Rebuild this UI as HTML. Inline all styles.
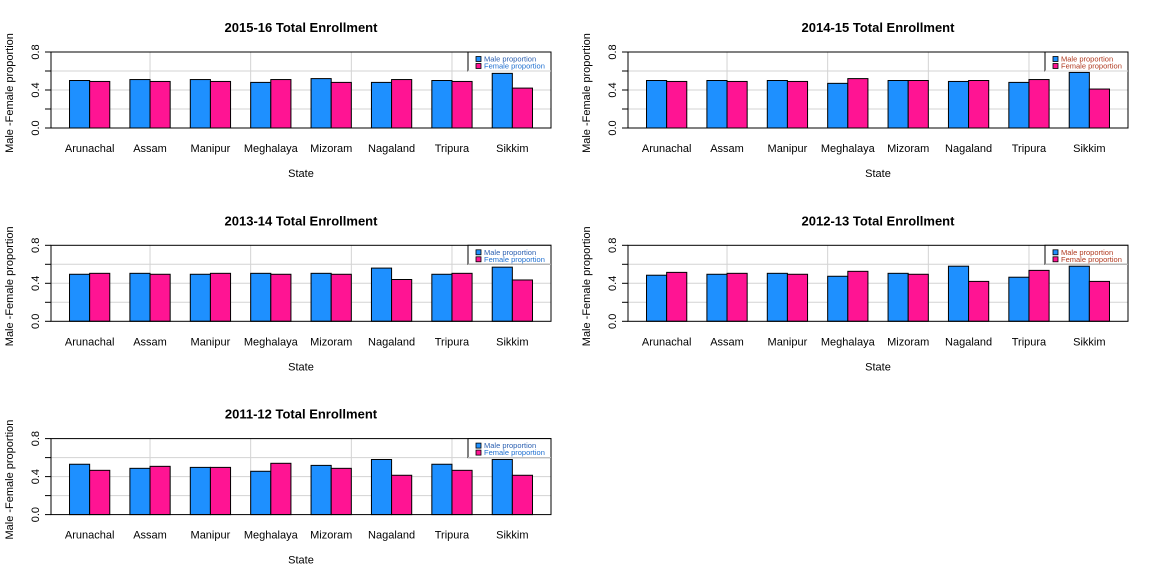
<!DOCTYPE html>
<html><head><meta charset="utf-8"><style>
body{margin:0;background:#fff;}
svg{display:block;font-family:"Liberation Sans",Arial,sans-serif;}
</style></head><body>
<svg id="chart" width="1154" height="580" viewBox="0 0 1154 580" xmlns="http://www.w3.org/2000/svg"></svg>
<script>
const states = ["Arunachal","Assam","Manipur","Meghalaya","Mizoram","Nagaland","Tripura","Sikkim"];
const years = ["2015-16","2014-15","2013-14","2012-13","2011-12"];
const male1516 = [0.50,0.51,0.51,0.48,0.52,0.48,0.50,0.575];
const female1516 = [0.49,0.49,0.49,0.51,0.48,0.51,0.49,0.42];
const male1415 = [0.50,0.50,0.50,0.47,0.50,0.49,0.48,0.585];
const female1415 = [0.49,0.49,0.49,0.52,0.50,0.50,0.51,0.41];
const male1314 = [0.495,0.505,0.495,0.505,0.505,0.56,0.495,0.57];
const female1314 = [0.505,0.495,0.505,0.495,0.495,0.44,0.505,0.435];
const male1213 = [0.485,0.495,0.505,0.474,0.505,0.58,0.464,0.58];
const female1213 = [0.515,0.505,0.495,0.526,0.495,0.42,0.536,0.42];
const male1112 = [0.53,0.487,0.497,0.456,0.518,0.58,0.53,0.58];
const female1112 = [0.466,0.508,0.497,0.54,0.487,0.414,0.466,0.414];
const yTicks = [0,0.2,0.4,0.6,0.8];
const yTickLabels = ["0.0","","0.4","","0.8"];
const legendLabels = ["Male proportion","Female proportion"];
const maleSeries=[male1516,male1415,male1314,male1213,male1112];
const femaleSeries=[female1516,female1415,female1314,female1213,female1112];
const legendColors=[["#2a5fb0","#1e6fd0"],["#b03a20","#b03a20"]];

const NS="http://www.w3.org/2000/svg";
const svg=document.getElementById('chart');
function mk(tag,attrs,parent,text){const e=document.createElementNS(NS,tag);for(const k in attrs)e.setAttribute(k,attrs[k]);if(text!==undefined)e.textContent=text;parent.appendChild(e);return e;}

years.forEach((yr,p)=>{
  const col=p%2,row=Math.floor(p/2);
  const ox=col*577, oy=row*193.3;
  const L=ox+51,R=ox+551,T=oy+52,B=oy+128;
  const g=mk('g',{},svg);
  
  
  const xs=u=>L+(u-0.08)/24.84*(R-L);
  const ys=v=>B-v/0.8*(B-T);
  // title
  const t=mk('text',{x:(L+R)/2,y:oy+32,'text-anchor':'middle','font-size':'13','font-weight':'bold'},g,yr+" Total Enrollment");
  
  
  // grid
  [5,10,15,20].forEach(u=>{const l=mk('line',{x1:xs(u),x2:xs(u),y1:T,y2:B,stroke:'#d3d3d3','stroke-width':1},g);
    });
  yTicks.slice(1,4).forEach(v=>{const l=mk('line',{x1:L,x2:R,y1:ys(v),y2:ys(v),stroke:'#d3d3d3','stroke-width':1},g);
    });
  // bars
  states.forEach((s,i)=>{
    const m=maleSeries[p][i],f=femaleSeries[p][i];
    const b1=mk('rect',{x:xs(3*i+1),y:ys(m),width:xs(3*i+2)-xs(3*i+1),height:B-ys(m),fill:'#1e90ff',stroke:'#000','stroke-width':1},g);
    
    
    const b2=mk('rect',{x:xs(3*i+2),y:ys(f),width:xs(3*i+3)-xs(3*i+2),height:B-ys(f),fill:'#ff1493',stroke:'#000','stroke-width':1},g);
    
    
    const lb=mk('text',{x:xs(3*i+2),y:oy+152,'text-anchor':'middle','font-size':'11'},g,s);
    
    
  });
  // frame
  const fr=mk('rect',{x:L,y:T,width:R-L,height:B-T,fill:'none',stroke:'#000','stroke-width':1},g);
  
  // y ticks
  yTicks.forEach((v,k)=>{
    const tk=mk('line',{x1:L-6,x2:L,y1:ys(v),y2:ys(v),stroke:'#000'},g);
    
    if(yTickLabels[k]){const tl=mk('text',{x:0,y:0,'text-anchor':'middle','font-size':'11',transform:`translate(${L-12},${ys(v)}) rotate(-90)`},g,yTickLabels[k]);
      }
  });
  const yt=mk('text',{x:0,y:0,'text-anchor':'middle','font-size':'11',transform:`translate(${ox+13},${(T+B)/2+3}) rotate(-90)`},g,"Male -Female proportion");
  
  const xt=mk('text',{x:(L+R)/2,y:oy+177,'text-anchor':'middle','font-size':'11'},g,"State");
  
  // legend
  const lg=mk('g',{},g);
  
  const lx=ox+468;
  mk('rect',{x:lx,y:T,width:R-lx,height:ys(0.6)-T,fill:'#fff',stroke:'#000','stroke-width':1},lg);
  mk('line',{x1:lx,x2:R,y1:ys(0.6),y2:ys(0.6),stroke:'#d3d3d3'},lg);
  const cc=legendColors[col];
  [['#1e90ff',legendLabels[0],cc[0]],['#ff1493',legendLabels[1],cc[1]]].forEach((e,k)=>{
    const ly=T+7+k*7;
    const sw=mk('rect',{x:lx+8,y:ly-2.5,width:5,height:5,fill:e[0],stroke:'#000','stroke-width':0.8},lg);
    
    const tx=mk('text',{x:lx+16,y:ly+2.5,'font-size':'7.5',fill:e[2]},lg,e[1]);
    
  });
});
</script>
</body></html>
